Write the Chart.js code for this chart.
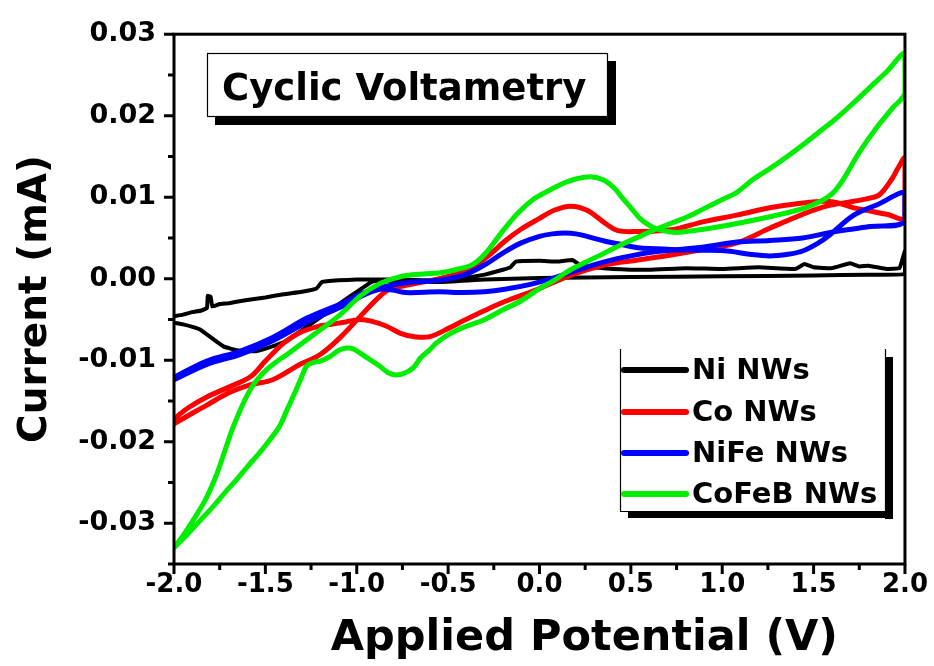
<!DOCTYPE html>
<html>
<head>
<meta charset="utf-8">
<title>Cyclic Voltametry</title>
<script src="https://cdn.jsdelivr.net/npm/chart.js@4.4.1/dist/chart.umd.min.js"></script>
<style>
  html, body { margin: 0; padding: 0; background: #fff; }
  canvas { display: block; }
</style>
</head>
<body>
<canvas id="cvChart" width="934" height="666"></canvas>
<script>
// ── Axis ticks ──
const xTicks = [-2.0, -1.5, -1.0, -0.5, 0.0, 0.5, 1.0, 1.5, 2.0];
const yTicks = [-0.03, -0.02, -0.01, 0.00, 0.01, 0.02, 0.03];

const seriesNames  = ['Ni NWs', 'Co NWs', 'NiFe NWs', 'CoFeB NWs'];
const seriesColors = ['#000000', '#ff0000', '#0000ff', '#00ee00'];

// ── Ni NWs: forward scan (-2 → 2) then reverse (2 → -2) ──
const niV = [-2.0, -1.95, -1.9, -1.85, -1.82, -1.815, -1.80, -1.79, -1.75, -1.7, -1.6, -1.5, -1.4, -1.3, -1.22,
             -1.19, -1.1, -1.0, -0.8, -0.6, -0.45, -0.3, -0.2, -0.16, -0.13, 0.0, 0.1, 0.18, 0.22, 0.3,
             0.4, 0.6, 0.8, 1.0, 1.2, 1.4, 1.45, 1.5, 1.6, 1.7, 1.75, 1.8, 1.9, 1.97, 2.0,
             2.0, 1.8, 1.5, 1.0, 0.5, 0.0, -0.3, -0.55, -0.75, -0.91, -0.98, -1.09, -1.24, -1.40, -1.55,
             -1.65, -1.73, -1.86, -1.95, -2.0];
const niI = [-0.0046, -0.0044, -0.0041, -0.0039, -0.0036, -0.0021, -0.0022, -0.0034, -0.0031, -0.003, -0.0026, -0.0023, -0.0019, -0.0016, -0.0012,
             -0.0004, -0.0002, -0.0001, -0.0001, -0.0002, 0.0, 0.0005, 0.0011, 0.0014, 0.0021, 0.0022, 0.0021, 0.0023, 0.0017, 0.0014,
             0.0012, 0.0011, 0.0013, 0.0012, 0.0014, 0.0012, 0.0018, 0.0014, 0.0013, 0.0019, 0.0015, 0.0016, 0.0012, 0.0013, 0.0034,
             0.0006, 0.0005, 0.0004, 0.0003, 0.0002, 0.0001, -0.0001, -0.0004, -0.0003, -0.0003, -0.0013, -0.003, -0.0054, -0.0078, -0.0089,
             -0.0088, -0.0083, -0.0062, -0.0056, -0.0054];

// ── Co NWs ──
const coV = [-2.0, -1.9, -1.82, -1.7, -1.58, -1.46, -1.31, -1.2, -1.09, -0.98, -0.89, -0.82, -0.7, -0.55, -0.45,
             -0.37, -0.28, -0.19, -0.1, 0.0, 0.08, 0.17, 0.26, 0.36, 0.43, 0.54, 0.72, 0.9, 1.08, 1.26,
             1.44, 1.57, 1.65, 1.72, 1.81, 1.9, 2.0,
             2.0, 1.96, 1.93, 1.86, 1.79, 1.72, 1.57, 1.44, 1.26, 1.08, 0.9, 0.72, 0.54, 0.36, 0.17,
             0.0, -0.19, -0.3, -0.42, -0.49, -0.6, -0.69, -0.76, -0.84, -0.92, -0.98, -1.06, -1.14, -1.22, -1.31,
             -1.4, -1.5, -1.58, -1.7, -1.82, -1.92, -2.0];
const coI = [-0.0178, -0.0165, -0.0155, -0.014, -0.013, -0.0124, -0.0105, -0.0093, -0.0072, -0.0046, -0.0025, -0.0013, -0.0007, 0.0, 0.0006,
             0.0013, 0.0028, 0.0046, 0.0061, 0.0074, 0.0084, 0.0089, 0.0084, 0.0068, 0.0059, 0.0058, 0.006, 0.007, 0.0078, 0.0087,
             0.0093, 0.0095, 0.0092, 0.0087, 0.0083, 0.0079, 0.0075,
             0.0148, 0.0135, 0.0123, 0.0103, 0.0098, 0.0095, 0.0089, 0.0079, 0.0062, 0.0044, 0.0036, 0.0029, 0.0023, 0.0017, 0.0004,
             -0.0012, -0.0028, -0.0039, -0.0052, -0.006, -0.0071, -0.0071, -0.0067, -0.0058, -0.0052, -0.005, -0.0053, -0.0056, -0.0059, -0.0066,
             -0.0079, -0.0101, -0.012, -0.0133, -0.0145, -0.0158, -0.0172];

// ── NiFe NWs ──
const nifeV = [-2.0, -1.82, -1.64, -1.46, -1.27, -1.09, -0.97, -0.875, -0.73, -0.55, -0.42, -0.3, -0.19, -0.1, 0.0,
               0.07, 0.14, 0.2, 0.26, 0.36, 0.45, 0.54, 0.72, 0.9, 1.03, 1.15, 1.26, 1.36, 1.44, 1.52,
               1.59, 1.72, 1.86, 2.0,
               2.0, 1.81, 1.62, 1.44, 1.26, 1.08, 0.9, 0.72, 0.63, 0.5, 0.36, 0.2, 0.08, -0.05, -0.19,
               -0.3, -0.42, -0.55, -0.73, -0.8, -0.875, -0.97, -1.09, -1.27, -1.46, -1.64, -1.82, -2.0];
const nifeI = [-0.0121, -0.0101, -0.0089, -0.0072, -0.0048, -0.0031, -0.0018, -0.0011, -0.0005, -0.0002, 0.0004, 0.0017, 0.0033, 0.0044, 0.0052,
               0.0055, 0.0056, 0.0055, 0.0052, 0.0046, 0.0042, 0.0038, 0.0036, 0.0035, 0.0034, 0.003, 0.0028, 0.003, 0.0034, 0.0043,
               0.0054, 0.0078, 0.0092, 0.0105,
               0.007, 0.0064, 0.0058, 0.005, 0.0047, 0.0045, 0.0039, 0.0035, 0.0033, 0.0028, 0.0021, 0.001, 0.0001, -0.0007, -0.0013,
               -0.0016, -0.0017, -0.0016, -0.0017, -0.0014, -0.0013, -0.0021, -0.0035, -0.0053, -0.0076, -0.0093, -0.0105, -0.0124];

// ── CoFeB NWs ──
const cofebV = [-2.0, -1.95, -1.9, -1.83, -1.77, -1.72, -1.673, -1.58, -1.49, -1.37, -1.22, -1.09, -0.98, -0.875, -0.8,
                -0.73, -0.62, -0.55, -0.46, -0.37, -0.3, -0.21, -0.12, -0.03, 0.05, 0.14, 0.21, 0.28, 0.35, 0.41,
                0.45, 0.5, 0.55, 0.59, 0.63, 0.7, 0.77, 0.99, 1.26, 1.44, 1.53, 1.6, 1.66, 1.75, 1.84,
                1.93, 2.0,
                2.0, 1.9, 1.8, 1.71, 1.62, 1.53, 1.44, 1.35, 1.26, 1.17, 1.08, 0.99, 0.9, 0.81, 0.72,
                0.63, 0.54, 0.45, 0.36, 0.26, 0.17, 0.08, 0.0, -0.1, -0.2, -0.3, -0.42, -0.51, -0.57, -0.6,
                -0.65, -0.69, -0.74, -0.785, -0.83, -0.875, -0.93, -0.984, -1.02, -1.057, -1.1, -1.15, -1.2, -1.24, -1.274,
                -1.31, -1.347, -1.38, -1.42, -1.47, -1.53, -1.6, -1.66, -1.72, -1.78, -1.85, -1.92, -2.0];
const cofebI = [-0.033, -0.0315, -0.0298, -0.0272, -0.0242, -0.021, -0.018, -0.0135, -0.0111, -0.0091, -0.0066, -0.0044, -0.0021, -0.0006, 0.0,
                0.0004, 0.0006, 0.0007, 0.0011, 0.0017, 0.003, 0.0056, 0.008, 0.0098, 0.0108, 0.0118, 0.0123, 0.0125, 0.0121, 0.0111,
                0.0100, 0.0087, 0.0074, 0.0067, 0.0062, 0.0058, 0.0057, 0.0064, 0.0076, 0.0086, 0.0094, 0.0104, 0.0121, 0.0155, 0.0184,
                0.0209, 0.0228,
                0.0276, 0.0254, 0.0233, 0.0214, 0.0196, 0.018, 0.0164, 0.0149, 0.0135, 0.0122, 0.0106, 0.0096, 0.0086, 0.0076, 0.0068,
                0.006, 0.0051, 0.0042, 0.0032, 0.0021, 0.0011, -0.0002, -0.0012, -0.0027, -0.0038, -0.005, -0.006, -0.007, -0.008, -0.0087,
                -0.0097, -0.0109, -0.0116, -0.0118, -0.0115, -0.0107, -0.0099, -0.0091, -0.0086, -0.0085, -0.0088, -0.0096, -0.0101, -0.0103, -0.0107,
                -0.0125, -0.0144, -0.016, -0.018, -0.0196, -0.0213, -0.0231, -0.0247, -0.0262, -0.0278, -0.0295, -0.0312, -0.033];

const FONT = "'DejaVu Sans', 'Liberation Sans', sans-serif";
const toPoints = (xs, ys) => xs.map((v, i) => ({ x: v, y: ys[i] }));
const allV = [niV, coV, nifeV, cofebV];
const allI = [niI, coI, nifeI, cofebI];

// Frame, outward ticks (major + minor), annotation box and legend
const framePlugin = {
    id: 'frame',
    beforeDraw(chart) {
        const c = chart.ctx;
        c.save();
        c.fillStyle = '#fff';
        c.fillRect(0, 0, chart.width, chart.height);
        c.restore();
    },
    afterDraw(chart) {
        const c = chart.ctx;
        const a = chart.chartArea;
        const xs = chart.scales.x, ys = chart.scales.y;
        c.save();
        c.strokeStyle = '#000';
        c.lineWidth = 3;
        c.strokeRect(a.left, a.top, a.right - a.left, a.bottom - a.top);

        // x ticks
        c.beginPath();
        xTicks.forEach((v, i) => {
            const px = xs.getPixelForValue(v);
            c.moveTo(px, a.bottom); c.lineTo(px, a.bottom + 10);
            if (i < xTicks.length - 1) {
                const mx = xs.getPixelForValue((v + xTicks[i + 1]) / 2);
                c.moveTo(mx, a.bottom); c.lineTo(mx, a.bottom + 6);
            }
        });
        // y ticks
        yTicks.forEach((v, i) => {
            const py = ys.getPixelForValue(v);
            c.moveTo(a.left, py); c.lineTo(a.left - 10, py);
            if (i < yTicks.length - 1) {
                const my = ys.getPixelForValue((v + yTicks[i + 1]) / 2);
                c.moveTo(a.left, my); c.lineTo(a.left - 6, my);
            }
        });
        c.moveTo(a.left, a.bottom); c.lineTo(a.left - 6, a.bottom);
        c.stroke();

        // ── "Cyclic Voltametry" box with drop shadow ──
        c.fillStyle = '#000';
        c.fillRect(215, 61, 401, 64);
        c.fillStyle = '#fff';
        c.fillRect(207, 53, 401, 64);
        c.lineWidth = 1.2;
        c.strokeRect(207.5, 53.5, 400, 63);
        c.fillStyle = '#000';
        c.font = 'bold 37px ' + FONT;
        c.textBaseline = 'alphabetic';
        c.textAlign = 'left';
        c.fillText('Cyclic Voltametry', 222, 100);

        // ── Legend box ──
        const lx = 620, lt = 349, lr = 885, lb = 511;
        c.fillStyle = '#000';
        c.fillRect(lr, lt + 8, 8, lb - lt);
        c.fillRect(lx + 8, lb, lr - lx, 7);
        c.fillStyle = '#fff';
        c.fillRect(lx, lt, lr - lx, lb - lt);
        c.strokeStyle = '#000';
        c.lineWidth = 1.2;
        c.beginPath();
        c.moveTo(lx + 0.5, lt); c.lineTo(lx + 0.5, lb + 0.5);
        c.lineTo(lr + 0.5, lb + 0.5); c.lineTo(lr + 0.5, lt);
        c.stroke();

        const rows = [370, 412, 453, 494];
        c.font = 'bold 29px ' + FONT;
        c.textBaseline = 'middle';
        chart.data.datasets.forEach((ds, i) => {
            c.strokeStyle = ds.borderColor;
            c.lineWidth = 6;
            c.lineCap = 'round';
            c.beginPath();
            c.moveTo(624, rows[i]); c.lineTo(686, rows[i]);
            c.stroke();
            c.fillStyle = '#000';
            c.fillText(ds.label, 692, rows[i] + 1);
        });
        c.restore();
    }
};

new Chart(document.getElementById('cvChart').getContext('2d'), {
    type: 'scatter',
    data: {
        datasets: seriesNames.map((name, i) => ({
            label: name,
            data: toPoints(allV[i], allI[i]),
            showLine: true,
            borderColor: seriesColors[i],
            backgroundColor: seriesColors[i],
            borderWidth: i === 0 ? 4 : 5,
            tension: i === 0 ? 0.1 : 0.35,
            pointRadius: 0,
            order: 4 - i
        }))
    },
    options: {
        responsive: false,
        animation: false,
        events: [],
        layout: { padding: { top: 32, right: 25, left: 0, bottom: 0 } },
        plugins: {
            legend: { display: false },
            tooltip: { enabled: false }
        },
        elements: { line: { borderCapStyle: 'round', borderJoinStyle: 'round' } },
        scales: {
            x: {
                type: 'linear',
                min: -2.0,
                max: 2.0,
                afterBuildTicks: s => { s.ticks = xTicks.map(v => ({ value: v })); },
                afterFit: s => { s.height = 102; },
                grid: { display: false, drawTicks: false },
                border: { display: false },
                ticks: {
                    color: '#000',
                    padding: 6,
                    maxRotation: 0,
                    font: { family: FONT, size: 26, weight: 'bold' },
                    callback: v => v.toFixed(1)
                },
                title: {
                    display: true,
                    text: '      Applied Potential (V)',
                    color: '#000',
                    padding: { top: 0, bottom: 1 },
                    font: { family: FONT, size: 43, weight: 'bold' }
                }
            },
            y: {
                type: 'linear',
                min: -0.035,
                max: 0.03,
                afterBuildTicks: s => { s.ticks = yTicks.map(v => ({ value: v })); },
                afterFit: s => { s.width = 174; },
                grid: { display: false, drawTicks: false },
                border: { display: false },
                ticks: {
                    color: '#000',
                    padding: 18,
                    font: { family: FONT, size: 27, weight: 'bold' },
                    callback: v => v.toFixed(2)
                },
                title: {
                    display: true,
                    text: 'Current (mA)',
                    color: '#000',
                    padding: { top: 12, bottom: 0 },
                    font: { family: FONT, size: 39, weight: 'bold' }
                }
            }
        }
    },
    plugins: [framePlugin]
});
</script>
</body>
</html>
